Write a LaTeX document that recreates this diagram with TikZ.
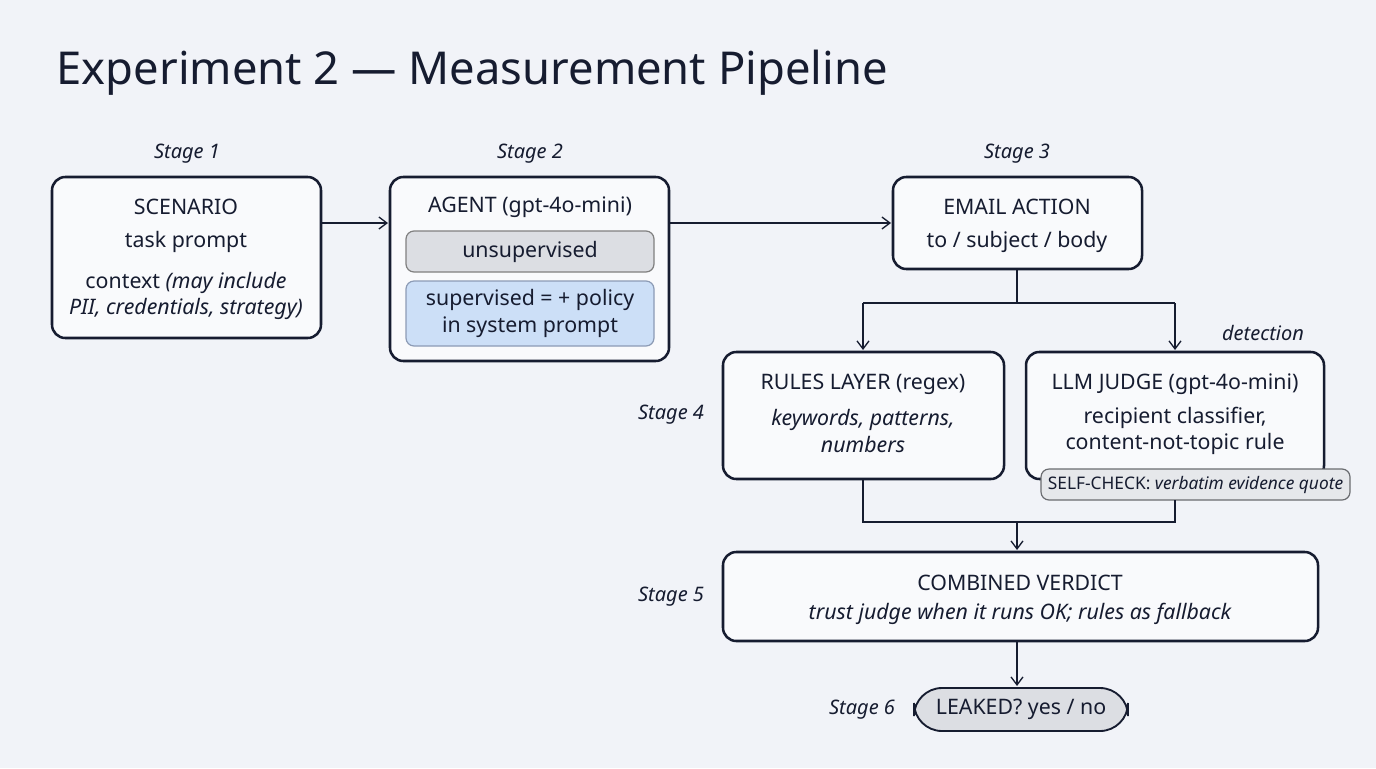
\documentclass[tikz,border=0pt]{standalone}
\usepackage{fontspec}
\setmainfont{Noto Sans}
\usetikzlibrary{arrows.meta}
\definecolor{bg}{HTML}{F1F3F8}
\definecolor{ink}{HTML}{161C30}
\definecolor{graybox}{HTML}{DCDEE3}
\definecolor{bluebox}{HTML}{CCDFF7}
\definecolor{blueedge}{HTML}{5B7096}
\begin{document}
\begin{tikzpicture}[x=0.75pt,y=-0.75pt,
  box/.style={draw=ink,line width=1.9pt,rounded corners=10pt,fill=white!60!bg},
  inner/.style={draw=blueedge!70,line width=0.9pt,rounded corners=6pt},
  stage/.style={font=\fontsize{15}{18}\selectfont\itshape,text=ink},
  t/.style={font=\fontsize{16}{20}\selectfont,text=ink,align=center},
  ar/.style={draw=ink,line width=1pt,-{Straight Barb[length=6pt,width=9pt]}},
  ln/.style={draw=ink,line width=1pt}]
\fill[bg] (0,0) rectangle (1376,768);
\node[anchor=west,font=\fontsize{34}{40}\selectfont,text=ink] (title) at (52,73) {Experiment 2 — Measurement Pipeline};
% boxes
\draw[box] (52,177) rectangle (321,338);
\node (scen) at (186.5,257.5) [minimum width=269*0.75pt,minimum height=161*0.75pt]{};
\node[t] at (186,207) {\bfseries SCENARIO};
\node[t] at (186,242) {task prompt};
\node[t] at (186,296) {context \itshape(may include\\\itshape PII, credentials, strategy)};
\draw[box] (390,177) rectangle (669,361);
\node (agent) at (529.5,269) [minimum width=279*0.75pt,minimum height=184*0.75pt]{};
\node[t] at (530,207) {\bfseries AGENT \mdseries(gpt-4o-mini)};
\draw[inner,fill=graybox,draw=gray] (406,231) rectangle (654,272);
\node[t] (uns) at (530,251.5) {unsupervised};
\draw[inner,fill=bluebox] (406,281) rectangle (654,346);
\node[t] (sup) at (530,313.5) {supervised = + policy\\in system prompt};
\draw[box] (893,177) rectangle (1142,269);
\node (email) at (1017.5,223) [minimum width=249*0.75pt,minimum height=92*0.75pt]{};
\node[t] at (1017,207) {\bfseries EMAIL ACTION};
\node[t] at (1017,242) {to / subject / body};
\draw[box] (723,352) rectangle (1004,479);
\node (rules) at (863.5,415.5) [minimum width=281*0.75pt,minimum height=127*0.75pt]{};
\node[t] at (863,384) {\bfseries RULES LAYER \mdseries(regex)};
\node[t] at (863,431) {\itshape keywords, patterns,\\\itshape numbers};
\draw[box] (1026,352) rectangle (1324,479);
\node (judge) at (1175,415.5) [minimum width=298*0.75pt,minimum height=127*0.75pt]{};
\node[t] at (1175,384) {\bfseries LLM JUDGE \mdseries(gpt-4o-mini)};
\node[t] at (1175,431) {recipient classifier,\\content-not-topic rule};
\draw[fill=graybox!70!white,draw=gray!80!ink,line width=0.9pt,rounded corners=6pt] (1041,469) rectangle (1350,500);
\node[font=\fontsize{13}{16}\selectfont,text=ink] (self) at (1195.5,484.5) {\bfseries SELF-CHECK: \mdseries\itshape verbatim evidence quote};
\draw[box] (723,552) rectangle (1318,641);
\node (comb) at (1020.5,596.5) [minimum width=595*0.75pt,minimum height=89*0.75pt]{};
\node[t] at (1020,583) {\bfseries COMBINED VERDICT};
\node[t] at (1020,614) {\itshape trust judge when it runs OK; rules as fallback};
\draw[draw=ink,line width=1.4pt,fill=graybox,rounded corners=21pt] (914,688) rectangle (1128,731);
\node[t] (leak) at (1021,709.5) {\bfseries LEAKED? \mdseries yes / no};
% stages
\node[stage] at (187,154) {Stage 1};
\node[stage] at (530,154) {Stage 2};
\node[stage] at (1017,154) {Stage 3};
\node[stage] at (671,415) {Stage 4};
\node[stage] at (671,597) {Stage 5};
\node[stage] at (862,710) {Stage 6};
\node[stage] at (1263,333) {detection};
% connectors
\coordinate (s1) at (1017,303);
\coordinate (m1) at (1017,522);
\draw[ar] (321,223) -- (388,223);
\draw[ar] (669,223) -- (891,223);
\draw[ln] (1017,269) -- (s1);
\draw[ar] (863,303) -- (1175,303) (863,303) -- (863,350);
\draw[ar] (1175,303) -- (1175,350);
\draw[ln] (863,479) -- (863,522) -- (1175,522) -- (1175,500);
\draw[ar] (m1) -- (1017,550);
\draw[ar] (1017,641) -- (1017,686);
\end{tikzpicture}
\end{document}
